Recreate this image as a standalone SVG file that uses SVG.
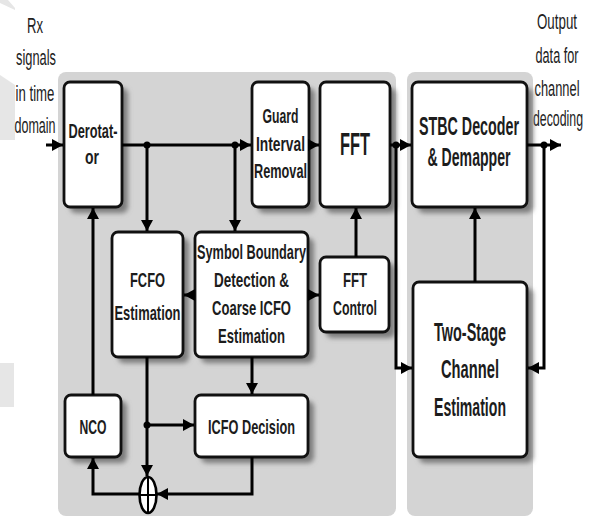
<svg xmlns="http://www.w3.org/2000/svg" width="592" height="520" viewBox="0 0 592 520">
<defs>
<filter id="blur" x="-20%" y="-20%" width="140%" height="140%"><feGaussianBlur stdDeviation="2.5"/></filter>
<marker id="ah" markerUnits="userSpaceOnUse" markerWidth="12" markerHeight="12" refX="11" refY="6" orient="auto"><path d="M0,0 L11,6 L0,12 z" fill="#000"/></marker>
<style>
.panel{fill:#d4d4d4}
.wm{fill:#e6e6e6}
.sh{fill:#7c7c7c;filter:url(#blur)}
.box{fill:#fff;stroke:#111;stroke-width:2.8}
.lbl{font-family:"Liberation Sans",Arial,sans-serif;font-weight:bold;font-size:21px;fill:#1c1c1c;text-anchor:middle}
.big{font-size:26px}
.fft{font-size:32px}
.side{font-family:"Liberation Sans",Arial,sans-serif;font-size:22px;fill:#222;text-anchor:middle}
.wa{stroke:#000;stroke-width:3;fill:none;marker-end:url(#ah)}
.dot{fill:#000}
</style>
</defs>
<rect width="592" height="520" fill="#fff"/>
<g id="watermark">
<polygon class="wm" points="0,0 8,0 15,8 15,10 0,3"/>
<polygon class="wm" points="0,75 15,85 15,140 0,140"/>
<rect class="wm" x="0" y="363" width="14" height="44"/>
</g>
<g id="panels">
<rect class="panel" x="58" y="72" width="338" height="444" rx="8"/>
<rect class="panel" x="407" y="72" width="126" height="444" rx="8"/>
</g>
<g id="labels-io">
<text class="side" transform="translate(35,33) scale(0.595,1)">Rx</text>
<text class="side" transform="translate(36,65) scale(0.584,1)">signals</text>
<text class="side" transform="translate(35,101) scale(0.6,1)">in time</text>
<text class="side" transform="translate(35,133) scale(0.57,1)">domain</text>
<text class="side" transform="translate(557,29) scale(0.606,1)">Output</text>
<text class="side" transform="translate(557,63) scale(0.576,1)">data for</text>
<text class="side" transform="translate(557,96) scale(0.584,1)">channel</text>
<text class="side" transform="translate(558,126) scale(0.56,1)">decoding</text>
</g>
<g id="derotator">
<rect class="sh" x="70" y="88" width="58" height="125" rx="6"/>
<rect class="box" x="64" y="82" width="58" height="125" rx="6"/>
<text class="lbl" x="93" y="138" textLength="49" lengthAdjust="spacingAndGlyphs">Derotat-</text>
<text class="lbl" x="92" y="164" textLength="14" lengthAdjust="spacingAndGlyphs">or</text>
</g>
<g id="guard">
<rect class="sh" x="258" y="88" width="57" height="125" rx="6"/>
<rect class="box" x="252" y="82" width="57" height="125" rx="6"/>
<text class="lbl" x="280.5" y="123" textLength="36" lengthAdjust="spacingAndGlyphs">Guard</text>
<text class="lbl" x="280.5" y="151" textLength="49" lengthAdjust="spacingAndGlyphs">Interval</text>
<text class="lbl" x="280.5" y="178" textLength="53" lengthAdjust="spacingAndGlyphs">Removal</text>
</g>
<g id="fft">
<rect class="sh" x="326" y="88" width="70" height="125" rx="6"/>
<rect class="box" x="320" y="82" width="70" height="125" rx="6"/>
<text class="lbl fft" x="355" y="155" textLength="30" lengthAdjust="spacingAndGlyphs">FFT</text>
</g>
<g id="stbc">
<rect class="sh" x="418" y="88" width="115" height="125" rx="6"/>
<rect class="box" x="412" y="82" width="115" height="125" rx="6"/>
<text class="lbl big" transform="translate(469,135) scale(0.549,1)">STBC Decoder</text>
<text class="lbl big" transform="translate(469,166) scale(0.542,1)">&amp; Demapper</text>
</g>
<g id="fcfo">
<rect class="sh" x="118" y="238" width="71" height="125" rx="6"/>
<rect class="box" x="112" y="232" width="71" height="125" rx="6"/>
<text class="lbl" x="147.5" y="287" textLength="35" lengthAdjust="spacingAndGlyphs">FCFO</text>
<text class="lbl" x="147.5" y="320" textLength="66" lengthAdjust="spacingAndGlyphs">Estimation</text>
</g>
<g id="symbol">
<rect class="sh" x="201" y="238" width="113" height="125" rx="6"/>
<rect class="box" x="195" y="232" width="113" height="125" rx="6"/>
<text class="lbl" x="251.5" y="259" textLength="109" lengthAdjust="spacingAndGlyphs">Symbol Boundary</text>
<text class="lbl" x="251.5" y="287" textLength="75" lengthAdjust="spacingAndGlyphs">Detection &amp;</text>
<text class="lbl" x="251.5" y="315" textLength="79" lengthAdjust="spacingAndGlyphs">Coarse ICFO</text>
<text class="lbl" x="251.5" y="343" textLength="67" lengthAdjust="spacingAndGlyphs">Estimation</text>
</g>
<g id="fftcontrol">
<rect class="sh" x="326" y="263" width="69" height="75" rx="6"/>
<rect class="box" x="320" y="257" width="69" height="75" rx="6"/>
<text class="lbl" x="355" y="287" textLength="24" lengthAdjust="spacingAndGlyphs">FFT</text>
<text class="lbl" x="355" y="315" textLength="44" lengthAdjust="spacingAndGlyphs">Control</text>
</g>
<g id="twostage">
<rect class="sh" x="419" y="288" width="114" height="175" rx="6"/>
<rect class="box" x="413" y="282" width="114" height="175" rx="6"/>
<text class="lbl big" x="470" y="341" textLength="72" lengthAdjust="spacingAndGlyphs">Two-Stage</text>
<text class="lbl big" x="470" y="378" textLength="58" lengthAdjust="spacingAndGlyphs">Channel</text>
<text class="lbl big" x="470" y="416" textLength="72" lengthAdjust="spacingAndGlyphs">Estimation</text>
</g>
<g id="nco">
<rect class="sh" x="71" y="401" width="56" height="62" rx="6"/>
<rect class="box" x="65" y="395" width="56" height="62" rx="6"/>
<text class="lbl" x="93" y="434" textLength="27" lengthAdjust="spacingAndGlyphs">NCO</text>
</g>
<g id="icfo">
<rect class="sh" x="201" y="401" width="113" height="62" rx="6"/>
<rect class="box" x="195" y="395" width="113" height="62" rx="6"/>
<text class="lbl" x="251.5" y="434" textLength="87" lengthAdjust="spacingAndGlyphs">ICFO Decision</text>
</g>
<g id="adder">
<ellipse cx="148" cy="495" rx="8.5" ry="18" fill="#fff" stroke="#000" stroke-width="2.6"/>
<line x1="139.5" y1="495" x2="156.5" y2="495" stroke="#000" stroke-width="2"/>
<line x1="148" y1="477" x2="148" y2="513" stroke="#000" stroke-width="2"/>
</g>
<g id="connectors">
<line class="wa" x1="46" y1="145" x2="63" y2="145"/>
<line class="wa" x1="122" y1="145" x2="251" y2="145"/>
<line class="wa" x1="147" y1="145" x2="147" y2="231"/>
<line class="wa" x1="235" y1="145" x2="235" y2="231"/>
<line class="wa" x1="309" y1="145" x2="319" y2="145"/>
<line class="wa" x1="390" y1="145" x2="411" y2="145"/>
<polyline class="wa" points="396,145 396,368 412,368"/>
<line class="wa" x1="527" y1="145" x2="561" y2="145"/>
<polyline class="wa" points="544,145 544,368 528,368"/>
<line class="wa" x1="475" y1="282" x2="475" y2="208"/>
<line class="wa" x1="356" y1="257" x2="356" y2="208"/>
<line class="wa" x1="195" y1="295" x2="184" y2="295"/>
<line class="wa" x1="308" y1="295" x2="319" y2="295"/>
<line class="wa" x1="252" y1="357" x2="252" y2="394"/>
<line class="wa" x1="147" y1="357" x2="147" y2="476"/>
<line class="wa" x1="147" y1="425" x2="194" y2="425"/>
<polyline class="wa" points="252,457 252,494 157,494"/>
<polyline class="wa" points="139,494 93,494 93,458"/>
<line class="wa" x1="93" y1="395" x2="93" y2="208"/>
<circle class="dot" cx="147" cy="145" r="3.5"/>
<circle class="dot" cx="235" cy="145" r="3.5"/>
<circle class="dot" cx="396" cy="145" r="3.5"/>
<circle class="dot" cx="544" cy="145" r="3.5"/>
<circle class="dot" cx="147" cy="425" r="3.5"/>
</g>
</svg>
